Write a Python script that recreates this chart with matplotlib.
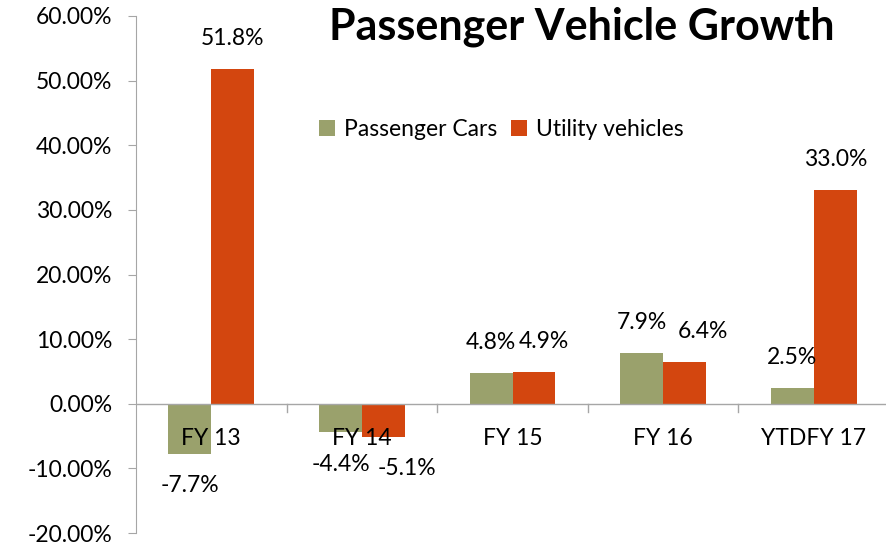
import numpy as np
import matplotlib.pyplot as plt
from matplotlib.ticker import FuncFormatter

categories = ['FY 13', 'FY 14', 'FY 15', 'FY 16', 'YTDFY 17']
passenger_cars = [-7.7, -4.4, 4.8, 7.9, 2.5]
utility_vehicles = [51.8, -5.1, 4.9, 6.4, 33.0]

GREEN = '#9AA16C'
ORANGE = '#D3460F'
GREY = '#A6A6A6'
FS = 16.5

plt.rcParams['font.family'] = ['Lato', 'DejaVu Sans']

fig = plt.figure(figsize=(8.86, 5.44), dpi=100)
ax = fig.add_axes([0.1535, 0.0202, 0.85, 0.9504])

x = np.arange(len(categories))
w = 0.285
b1 = ax.bar(x - w / 2, passenger_cars, w, color=GREEN, label='Passenger Cars')
b2 = ax.bar(x + w / 2, utility_vehicles, w, color=ORANGE, label='Utility vehicles')

ax.set_xlim(-0.5, len(categories) - 0.5)
ax.set_ylim(-20, 60)
ax.set_yticks(np.arange(-20, 61, 10))
ax.yaxis.set_major_formatter(FuncFormatter(lambda v, p: '{:.2f}%'.format(v)))
ax.tick_params(axis='y', labelsize=FS, length=6, color=GREY, pad=11)

for s in ['top', 'right', 'bottom']:
    ax.spines[s].set_visible(False)
ax.spines['left'].set_color(GREY)
ax.axhline(0, color=GREY, lw=1, zorder=3)

# category labels sit just under the zero line, tick marks at group edges
ax.set_xticks([])
for i in range(1, len(categories)):
    ax.plot([i - 0.5, i - 0.5], [0, -1.3], color=GREY, lw=1, clip_on=False)
for i, c in enumerate(categories):
    ax.text(i, -5.3, c, ha='center', va='center', fontsize=FS)

def label(bars, vals, nudges):
    for r, v, n in zip(bars, vals, nudges):
        off = 22 if v >= 0 else -23
        ax.annotate('{:.1f}%'.format(v), (r.get_x() + r.get_width() / 2, v),
                    xytext=(n, off), textcoords='offset points',
                    ha='center', va='center', fontsize=FS)

label(b1, passenger_cars, [0, 0, 0, 0, 0])
label(b2, utility_vehicles, [0, 17, 7, 13, 0])

ax.legend(loc='upper left', bbox_to_anchor=(0.215, 0.84), ncol=2, frameon=False,
          fontsize=FS, handlelength=0.7, handleheight=0.7, handletextpad=0.4,
          columnspacing=0.6)

fig.text(0.657, 0.95, 'Passenger Vehicle Growth', ha='center', va='center',
         fontsize=31, fontweight='bold')

fig.savefig('out.png', dpi=100)
